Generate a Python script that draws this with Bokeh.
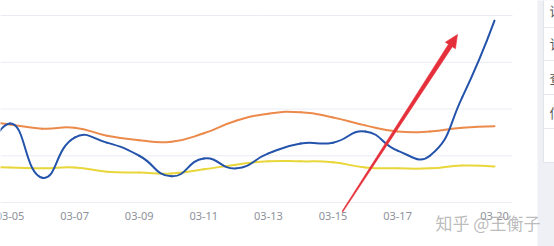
import math
from bokeh.plotting import figure
from bokeh.embed import file_html
from bokeh.resources import INLINE
from bokeh.core.properties import value

# ---------------- data ----------------
dates = ["03-04", "03-05", "03-06", "03-07", "03-08", "03-09", "03-10", "03-11",
         "03-12", "03-13", "03-14", "03-15", "03-16", "03-17", "03-18", "03-19", "03-20"]
day_index = [4, 5, 6, 7, 8, 9, 10, 11, 12, 13, 14, 15, 16, 17, 18, 19, 20]
blue_series = [40, 169, 53, 139, 128, 100, 56, 94, 73, 105, 126, 128, 152, 111, 100, 225, 389]
orange_series = [175, 167, 158, 160, 143, 133, 130, 148, 175, 190, 193, 182, 165, 152, 152, 160, 163]
yellow_series = [75, 75, 73, 75, 66, 64, 62, 71, 81, 88, 88, 86, 75, 73, 73, 79, 77]
tick_days = [5, 7, 9, 11, 13, 15, 17, 20]
tick_labels = ["03-05", "03-07", "03-09", "03-11", "03-13", "03-15", "03-17", "03-20"]
grid_values = [0, 100, 200, 300, 400]
side_chars = ["请", "订", "查", "信"]
watermark = "知乎 @王衡子"

# ---------------- layout (pixel geometry of the cropped screenshot) ----------------
W, H = 554, 246
PPD = 32.3            # pixels per day
X_REF_PX = 9.5        # pixel of day 5
VPP = 100 / 46.75     # value units per pixel
BASE_PX = 202         # pixel row of value 0

x_start = 5 - X_REF_PX / PPD
x_end = x_start + W / PPD
y_end = BASE_PX * VPP
y_start = -(H - BASE_PX) * VPP


def dx(px):
    return x_start + px / PPD


def dy(py):
    return (BASE_PX - py) * VPP


p = figure(width=W, height=H, output_backend="svg", toolbar_location=None,
           x_range=(x_start, x_end), y_range=(y_start, y_end),
           x_axis_type=None, y_axis_type=None, min_border=0,
           background_fill_color="white", border_fill_color="white")
p.outline_line_color = None
p.xgrid.visible = False
p.ygrid.visible = False

# grid lines
p.segment(x0=[x_start] * len(grid_values), x1=[dx(512)] * len(grid_values),
          y0=grid_values, y1=grid_values, line_color="#e9ecf3", line_width=1)


# ECharts-like smoothing -> bezier segments
def smooth(xs, ys, s=0.5):
    X = [x * PPD for x in xs]
    Y = [y / VPP for y in ys]
    n = len(X)
    cin = [None] * n
    cout = [None] * n
    for i in range(n):
        if i == 0 or i == n - 1:
            cin[i] = (X[i], Y[i])
            cout[i] = (X[i], Y[i])
            continue
        vx = X[i + 1] - X[i - 1]
        vy = Y[i + 1] - Y[i - 1]
        lp = math.hypot(X[i] - X[i - 1], Y[i] - Y[i - 1])
        ln = math.hypot(X[i + 1] - X[i], Y[i + 1] - Y[i])
        r = ln / (ln + lp)
        cin[i] = (X[i] - vx * s * (1 - r), Y[i] - vy * s * (1 - r))
        cout[i] = (X[i] + vx * s * r, Y[i] + vy * s * r)
    d = dict(x0=[], y0=[], x1=[], y1=[], cx0=[], cy0=[], cx1=[], cy1=[])
    for i in range(n - 1):
        d["x0"].append(xs[i]); d["y0"].append(ys[i])
        d["x1"].append(xs[i + 1]); d["y1"].append(ys[i + 1])
        d["cx0"].append(cout[i][0] / PPD); d["cy0"].append(cout[i][1] * VPP)
        d["cx1"].append(cin[i + 1][0] / PPD); d["cy1"].append(cin[i + 1][1] * VPP)
    return d


for ser, col in [(yellow_series, "#e8d63a"), (orange_series, "#ec8a4c"), (blue_series, "#2453ac")]:
    p.bezier(line_color=col, line_width=2, line_cap="round", **smooth(day_index, ser))

# x tick labels
p.text(x=tick_days, y=[dy(215)] * len(tick_days), text=tick_labels,
       text_font=value("Noto Sans"), text_font_size="11px", text_color="#8e919b",
       text_align="center", text_baseline="middle")

# right side panel
p.quad(left=[dx(537)], right=[dx(560)], top=[dy(-5)], bottom=[dy(250)],
       fill_color="#eff0f6", line_color=None)
p.quad(left=[dx(543)], right=[dx(560)], top=[dy(-2)], bottom=[dy(162)],
       fill_color="white", line_color="#e3e5ec", line_width=1)
sep = [27, 60, 94, 128]
p.segment(x0=[dx(543)] * 4, x1=[dx(560)] * 4, y0=[dy(v) for v in sep], y1=[dy(v) for v in sep],
          line_color="#e6e8ee", line_width=1)
p.text(x=[dx(549)] * 4, y=[dy(v) for v in [10, 43, 77, 112]], text=side_chars,
       text_font=value("Noto Sans CJK SC"), text_font_size="13px", text_color="#555555",
       text_align="left", text_baseline="middle")

# red annotation arrow (tapered)
tx, ty = 342, 211
hx, hy = 457, 34
L = math.hypot(hx - tx, hy - ty)
ux, uy = (hx - tx) / L, (hy - ty) / L
nx, ny = -uy, ux
bx, by = hx - ux * 13, hy - uy * 13
w0, w1, hw = 0.5, 2.3, 6.0
shaft = [(tx + nx * w0, ty + ny * w0), (bx + nx * w1, by + ny * w1),
         (bx + nx * hw, by + ny * hw), (hx, hy),
         (bx - nx * hw, by - ny * hw), (bx - nx * w1, by - ny * w1),
         (tx - nx * w0, ty - ny * w0)]
p.patch(x=[dx(a) for a, b in shaft], y=[dy(b) for a, b in shaft],
        fill_color="#e5303b", line_color="#e5303b", line_width=0.6)

# watermark
p.text(x=[dx(435)], y=[dy(222)], text=[watermark],
       text_font=value("Noto Sans CJK SC"), text_font_size="17px", text_color="#b3b3b3",
       text_align="left", text_baseline="middle", text_alpha=0.9)

open("out.html", "w").write(file_html(p, INLINE))
